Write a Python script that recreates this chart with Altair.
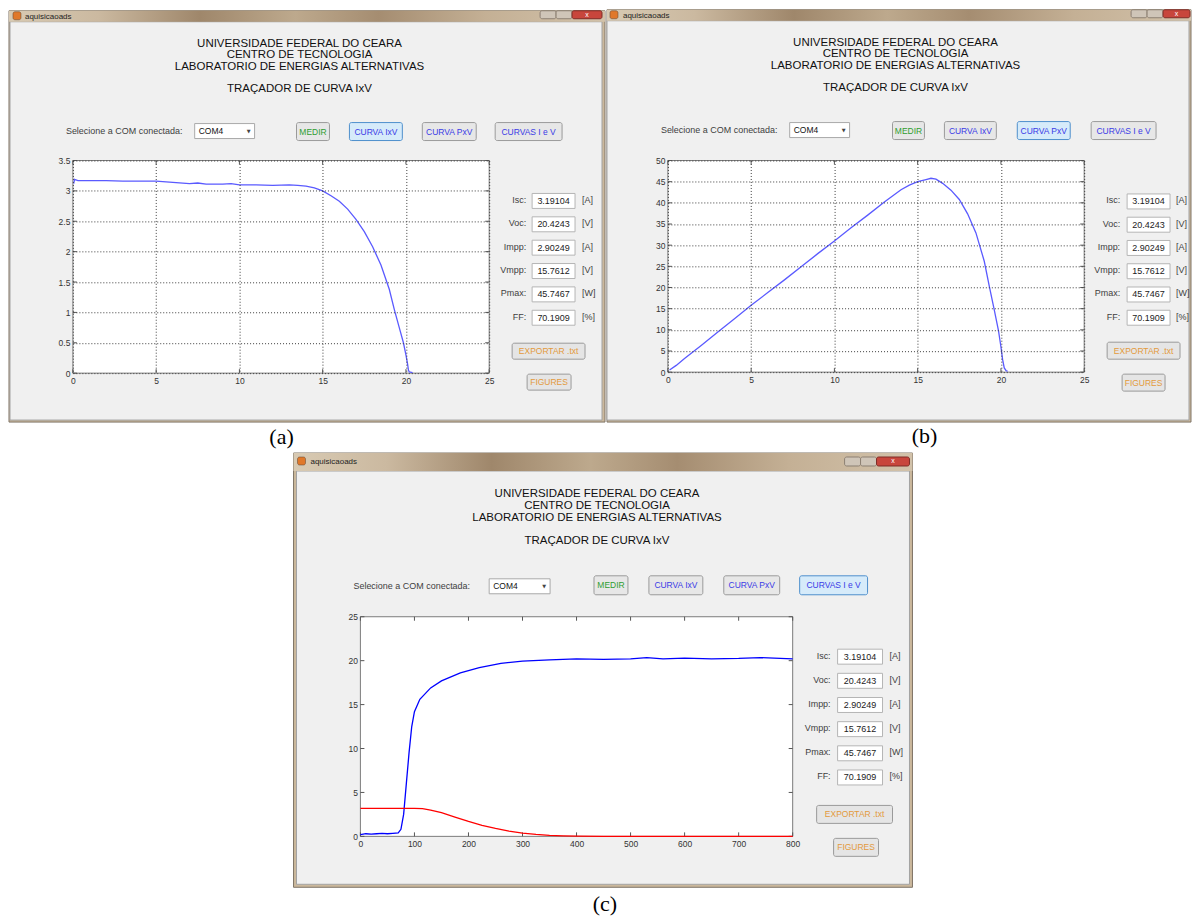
import altair as alt
import pandas as pd

# ---------------- data ----------------
IV_V = [0.05, 0.1, 0.3, 1, 2, 3, 4, 5, 6, 7, 7.5, 8, 9, 9.5, 10, 11, 12, 13, 13.5, 14,
        14.5, 15, 15.5, 16, 16.5, 17, 17.5, 18, 18.5, 19, 19.3, 19.6, 19.85, 20.0, 20.1,
        20.15, 20.2, 20.4]
IV_I = [3.12, 3.19, 3.17, 3.17, 3.17, 3.16, 3.16, 3.16, 3.14, 3.12, 3.13, 3.11, 3.11, 3.12,
        3.10, 3.10, 3.09, 3.10, 3.09, 3.08, 3.05, 3.00, 2.92, 2.83, 2.70, 2.53, 2.33, 2.08,
        1.78, 1.38, 1.05, 0.75, 0.50, 0.30, 0.15, 0.05, 0.02, 0.01]

PV_V = [0.1, 0.5, 1, 2, 3, 4, 5, 6, 7, 8, 9, 10, 11, 12, 13, 14, 14.5, 15, 15.5, 15.8,
        16.1, 16.5, 17, 17.5, 18, 18.5, 19, 19.3, 19.6, 19.85, 20.0, 20.1, 20.2, 20.3, 20.4]
PV_P = [0.5, 1.6, 3.2, 6.3, 9.5, 12.6, 15.8, 18.8, 21.8, 24.9, 28.0, 31.0, 34.1, 37.1, 40.2,
        43.1, 44.2, 45.0, 45.5, 45.8, 45.6, 44.6, 43.0, 40.8, 37.4, 32.9, 26.2, 20.3, 14.7,
        9.9, 6.0, 3.0, 1.0, 0.4, 0.2]

C_T_V = [0, 10, 20, 30, 40, 50, 60, 70, 75, 80, 85, 90, 95, 100, 110, 130, 150, 185, 220,
         260, 300, 350, 400, 450, 500, 530, 560, 600, 650, 700, 740, 800]
C_V = [0.2, 0.3, 0.25, 0.3, 0.35, 0.3, 0.35, 0.4, 0.8, 2.5, 6.0, 9.5, 12.5, 14.2, 15.6, 16.9,
       17.7, 18.6, 19.2, 19.7, 19.95, 20.1, 20.2, 20.15, 20.2, 20.35, 20.2, 20.3, 20.2, 20.25,
       20.35, 20.2]
C_T_I = [0, 50, 100, 115, 130, 150, 175, 200, 225, 250, 275, 300, 325, 350, 375, 400, 450,
         500, 600, 700, 800]
C_I = [3.19, 3.19, 3.19, 3.15, 3.0, 2.7, 2.2, 1.7, 1.25, 0.9, 0.6, 0.38, 0.22, 0.12, 0.06,
       0.03, 0.01, 0.0, 0.0, 0.0, 0.0]

X_TICKS_V = [0, 5, 10, 15, 20, 25]
Y_TICKS_I = [0, 0.5, 1, 1.5, 2, 2.5, 3, 3.5]
Y_TICKS_P = [0, 5, 10, 15, 20, 25, 30, 35, 40, 45, 50]
X_TICKS_T = [0, 100, 200, 300, 400, 500, 600, 700, 800]
Y_TICKS_C = [0, 5, 10, 15, 20, 25]

WINDOW_TITLE = "aquisicaoads"
HEADER_LINES = ["UNIVERSIDADE FEDERAL DO CEARA", "CENTRO DE TECNOLOGIA",
                "LABORATORIO DE ENERGIAS ALTERNATIVAS"]
SUBTITLE = "TRAÇADOR DE CURVA IxV"
COM_LABEL = "Selecione a COM conectada:"
COM_VALUE = "COM4"
BUTTONS = ["MEDIR", "CURVA IxV", "CURVA PxV", "CURVAS I e V"]
PARAM_NAMES = ["Isc:", "Voc:", "Impp:", "Vmpp:", "Pmax:", "FF:"]
PARAM_VALUES = ["3.19104", "20.4243", "2.90249", "15.7612", "45.7467", "70.1909"]
PARAM_UNITS = ["[A]", "[V]", "[A]", "[V]", "[W]", "[%]"]
EXPORT_LABEL = "EXPORTAR .txt"
FIGURES_LABEL = "FIGURES"
PANEL_LABELS = ["(a)", "(b)", "(c)"]

# ---------------- layout (page pixel positions) ----------------
FONT = "Liberation Sans"
SERIF = "Liberation Serif"

LAYOUT_A = dict(
    plot=(73, 160, 490, 373), frame=(8, 8, 605, 422), content=(10, 21, 603, 420),
    titlebar=(8, 8, 605, 21), title_xy=(24, 14.5), icon=(12, 9, 20, 17),
    controls=[(540, 8, 556, 16), (556, 8, 572, 16), (572, 8, 602, 16)],
    header_cx=300, header_y=[43, 54, 66], sub_y=88,
    com_label=(66, 130), combo=(195, 123, 255, 138),
    btn_y=(122, 140), btn_x=[(297, 330), (350, 403), (423, 477), (496, 563)], active=1,
    par_lx=527, par_box=(533, 576), par_ux=583, par_y0=200.5, par_dy=23.4,
    export=(513, 343, 586, 359), figures=(528, 374, 572, 390),
    label=(282, 437), extent=(8, 8, 605, 450), shift=(-1, -2),
)
LAYOUT_B = dict(
    plot=(668, 161, 1085, 373), frame=(605, 8, 1190, 423), content=(607, 21, 1190, 421),
    titlebar=(605, 8, 1190, 21), title_xy=(621, 14.5), icon=(608, 9, 616, 17),
    controls=[(1130, 8, 1146, 16), (1146, 8, 1162, 16), (1162, 8, 1189, 16)],
    header_cx=896, header_y=[43, 54, 66], sub_y=88,
    com_label=(661, 130), combo=(790, 123, 850, 138),
    btn_y=(122, 140), btn_x=[(893, 925), (945, 997), (1018, 1071), (1092, 1157)], active=2,
    par_lx=1121, par_box=(1128, 1171), par_ux=1177, par_y0=202, par_dy=23.3,
    export=(1108, 343, 1181, 360), figures=(1123, 375, 1166, 392),
    label=(925, 437), extent=(605, 8, 1190, 450), shift=(-2, -2),
)
LAYOUT_C = dict(
    plot=(360, 616, 793, 836), frame=(293, 452, 913, 887), content=(296, 470, 910, 884),
    titlebar=(293, 452, 913, 470), title_xy=(310, 461.5), icon=(297, 456, 305, 464),
    controls=[(845, 456, 861, 465), (861, 456, 877, 465), (877, 456, 910, 465)],
    header_cx=597, header_y=[493, 505, 517], sub_y=540,
    com_label=(353, 585), combo=(489, 578, 550, 593),
    btn_y=(575, 594), btn_x=[(594, 628), (649, 703), (724, 780), (800, 868)], active=3,
    par_lx=831, par_box=(838, 883), par_ux=890, par_y0=656, par_dy=24.2,
    export=(817, 805, 893, 823), figures=(834, 838, 879, 856),
    label=(605, 904), extent=(293, 452, 913, 915), shift=(0, 0),
)
C_SHIFT = 220  # horizontal gap placed before panel (c) in the bottom row

BTN_TEXT_COLORS = ["#2f9e2f", "#3a3ae6", "#3a3ae6", "#3a3ae6"]
TITLE_GRAD = alt.LinearGradient(
    gradient="linear", x1=0, x2=1, y1=0, y2=0,
    stops=[alt.GradientStop(color="#d8cab3", offset=0),
           alt.GradientStop(color="#cbb9a0", offset=0.15),
           alt.GradientStop(color="#9f876b", offset=0.32),
           alt.GradientStop(color="#bda98d", offset=0.48),
           alt.GradientStop(color="#a58d71", offset=0.62),
           alt.GradientStop(color="#c4b095", offset=0.8),
           alt.GradientStop(color="#d2c2aa", offset=1)])


def make_axis(values, grid, fmt):
    return alt.Axis(values=values, grid=grid, gridColor="#3c3c3c", gridDash=[1, 2],
                    gridWidth=1, domain=False, ticks=False, labelFontSize=8.5,
                    labelColor="#333333", labelFont=FONT, labelPadding=3, labelFlush=False,
                    labelOverlap=False, title=None, zindex=1, format=fmt)


def px(ch, field):
    return ch(field, scale=None, axis=None)


def panel(L, line_df, xdom, ydom, xticks, yticks, yfmt, grid, colored, label):
    dx, dy = L["shift"]
    x0, y0, x1, y1 = L["plot"]
    x0, y0, x1, y1 = x0 + dx, y0 + dy, x1 + dx, y1 + dy
    W, H = x1 - x0, y1 - y0

    rects, brects, tc, tl, tr, ts, ta = [], [], [], [], [], [], []

    def rect(lst, a, b, c, d, fill, stroke="transparent", sw=0, fixed=False):
        if not fixed:
            a, b, c = a + dx, b + dy, c + dx
        d = d + dy
        lst.append(dict(x=a - x0, x2=c - x0, y=b - y0, y2=d - y0, fill=fill, stroke=stroke, sw=sw))

    def text(lst, x, y, s, size, color):
        lst.append(dict(x=x + dx - x0, y=y + dy - y0, text=s, size=size, color=color))

    rect(rects, *L["frame"], "#cbb89c", "#7f7466", 1, fixed=True)
    rect(rects, *L["content"], "#f0f0f0", "#a3a3a3", 1)
    cb = L["combo"]
    rect(rects, *cb, "#ffffff", "#a9a9a9", 1)
    bx0, bx1 = L["par_box"]
    for i in range(len(PARAM_NAMES)):
        yc = L["par_y0"] + i * L["par_dy"]
        rect(rects, bx0, yc - 7.5, bx1, yc + 7.5, "#ffffff", "#b5b5b5", 1)
        text(tr, L["par_lx"], yc - 1, PARAM_NAMES[i], 9, "#404040")
        text(tc, (bx0 + bx1) / 2, yc, PARAM_VALUES[i], 9, "#222222")
        text(tl, L["par_ux"], yc - 1, PARAM_UNITS[i], 9, "#404040")

    by0, by1 = L["btn_y"]
    for i, (a, c) in enumerate(L["btn_x"]):
        if i == L["active"]:
            rect(brects, a, by0, c, by1, "#d6ebfa", "#4d8fcc", 1)
        else:
            rect(brects, a, by0, c, by1, "#e7e7e7", "#9a9a9a", 1)
        text(tc, (a + c) / 2, (by0 + by1) / 2, BUTTONS[i], 8.5, BTN_TEXT_COLORS[i])
    for key, lab in (("export", EXPORT_LABEL), ("figures", FIGURES_LABEL)):
        a, b, c, d = L[key]
        rect(brects, a, b, c, d, "#e5e5e5", "#9a9a9a", 1)
        text(tc, (a + c) / 2, (b + d) / 2, lab, 8.5, "#e39a3c")
    for j, (a, b, c, d) in enumerate(L["controls"]):
        if j == 2:
            rect(brects, a, b, c, d - dy, "#c8463c", "#7e2c26", 1, fixed=True)
            tc.append(dict(x=(a + c) / 2 - x0, y=(b + d) / 2 - y0, text="x", size=7, color="#ffffff"))
        else:
            rect(brects, a, b, c, d - dy, "#cfc5b8", "#8c7f72", 1, fixed=True)
    ic = L["icon"]
    rect(brects, ic[0], ic[1], ic[2], ic[3] - dy, "#e0782a", "#5a4030", 0.5, fixed=True)

    tl.append(dict(x=L["title_xy"][0] - x0, y=L["title_xy"][1] - y0, text=WINDOW_TITLE,
                   size=8, color="#1e1e1e"))
    for yy, s in zip(L["header_y"], HEADER_LINES):
        text(tc, L["header_cx"], yy, s, 11.5, "#111111")
    text(tc, L["header_cx"], L["sub_y"], SUBTITLE, 11.5, "#111111")
    text(tl, L["com_label"][0], L["com_label"][1], COM_LABEL, 9, "#404040")
    text(tl, cb[0] + 4, (cb[1] + cb[3]) / 2, COM_VALUE, 8.5, "#111111")
    text(ta, cb[2] - 6, (cb[1] + cb[3]) / 2, "▼", 5, "#444444")
    text(ts, L["label"][0], L["label"][1], label, 22, "#000000")

    def rect_layer(rows, **kw):
        return alt.Chart(pd.DataFrame(rows)).mark_rect(**kw).encode(
            x=px(alt.X, "x:Q"), x2=alt.X2("x2:Q"), y=px(alt.Y, "y:Q"), y2=alt.Y2("y2:Q"),
            fill=alt.Fill("fill:N", scale=None), stroke=alt.Stroke("stroke:N", scale=None),
            strokeWidth=alt.StrokeWidth("sw:Q", scale=None))

    def text_layer(rows, align, font):
        return alt.Chart(pd.DataFrame(rows)).mark_text(align=align, baseline="middle", font=font).encode(
            x=px(alt.X, "x:Q"), y=px(alt.Y, "y:Q"), text="text:N",
            size=alt.Size("size:Q", scale=None), color=alt.Color("color:N", scale=None))

    one = pd.DataFrame({"k": [0]})
    ex = L["extent"]
    extent = alt.Chart(one).mark_rect(opacity=0).encode(
        x=alt.value(ex[0] - x0), x2=alt.value(ex[2] - x0),
        y=alt.value(ex[1] - y0), y2=alt.value(ex[3] + dy - y0))
    tb = L["titlebar"]
    titlebar = alt.Chart(one).mark_rect(fill=TITLE_GRAD).encode(
        x=alt.value(tb[0] - x0), x2=alt.value(tb[2] - x0),
        y=alt.value(tb[1] - y0), y2=alt.value(tb[3] + dy - y0))
    plotbox = alt.Chart(one).mark_rect(fill="white", stroke="#7a7a7a", strokeWidth=1).encode(
        x=alt.value(0), x2=alt.value(W), y=alt.value(0), y2=alt.value(H))

    xs = alt.Scale(domain=xdom, nice=False, zero=False)
    ys = alt.Scale(domain=ydom, nice=False, zero=False)
    xa = make_axis(xticks, grid, "d")
    ya = make_axis(yticks, grid, yfmt)
    xt = pd.DataFrame({"t": xticks})
    yt = pd.DataFrame({"t": yticks})
    ticks = []
    for ya0, ya1 in ((H, H - 4), (0, 4)):
        ticks.append(alt.Chart(xt).mark_rule(color="#555555").encode(
            x=alt.X("t:Q", scale=xs, axis=xa), y=alt.value(ya0), y2=alt.value(ya1)))
    for xa0, xa1 in ((0, 4), (W, W - 4)):
        ticks.append(alt.Chart(yt).mark_rule(color="#555555").encode(
            y=alt.Y("t:Q", scale=ys, axis=ya), x=alt.value(xa0), x2=alt.value(xa1)))

    if colored:
        data = alt.Chart(line_df).mark_line(strokeWidth=1.3).encode(
            x=alt.X("x:Q", scale=xs, axis=xa), y=alt.Y("y:Q", scale=ys, axis=ya),
            color=alt.Color("s:N", scale=alt.Scale(domain=["V", "I"], range=["#0000ff", "#ff0000"]),
                            legend=None))
    else:
        data = alt.Chart(line_df).mark_line(strokeWidth=1.3, color="#5a5aff").encode(
            x=alt.X("x:Q", scale=xs, axis=xa), y=alt.Y("y:Q", scale=ys, axis=ya))

    layers = [extent, rect_layer(rects), titlebar, rect_layer(brects, cornerRadius=2), plotbox,
              *ticks, data, text_layer(tc, "center", FONT), text_layer(tl, "left", FONT),
              text_layer(tr, "right", FONT), text_layer(ts, "center", SERIF),
              text_layer(ta, "center", "DejaVu Sans")]
    return alt.layer(*layers).properties(width=W, height=H)


df_a = pd.DataFrame({"x": IV_V, "y": IV_I})
df_b = pd.DataFrame({"x": PV_V, "y": PV_P})
df_c = pd.concat([pd.DataFrame({"x": C_T_V, "y": C_V, "s": "V"}),
                  pd.DataFrame({"x": C_T_I, "y": C_I, "s": "I"})], ignore_index=True)

pa = panel(LAYOUT_A, df_a, [0, 25], [0, 3.5], X_TICKS_V, Y_TICKS_I, "~g", True, False, PANEL_LABELS[0])
pb = panel(LAYOUT_B, df_b, [0, 25], [0, 50], X_TICKS_V, Y_TICKS_P, "d", True, False, PANEL_LABELS[1])
pc = panel(LAYOUT_C, df_c, [0, 800], [0, 25], X_TICKS_T, Y_TICKS_C, "d", False, True, PANEL_LABELS[2])

spacer = alt.Chart(pd.DataFrame({"k": [0]})).mark_rect(opacity=0).encode(
    x=alt.value(0), x2=alt.value(C_SHIFT), y=alt.value(0), y2=alt.value(1)
).properties(width=C_SHIFT, height=1)

top = alt.hconcat(pa, pb, spacing=0)
bottom = alt.hconcat(spacer, pc, spacing=0)
chart = alt.vconcat(top, bottom, spacing=2, padding=0).configure_view(strokeWidth=0)

chart.save("out.html", embed_options={"renderer": "svg", "actions": False})
